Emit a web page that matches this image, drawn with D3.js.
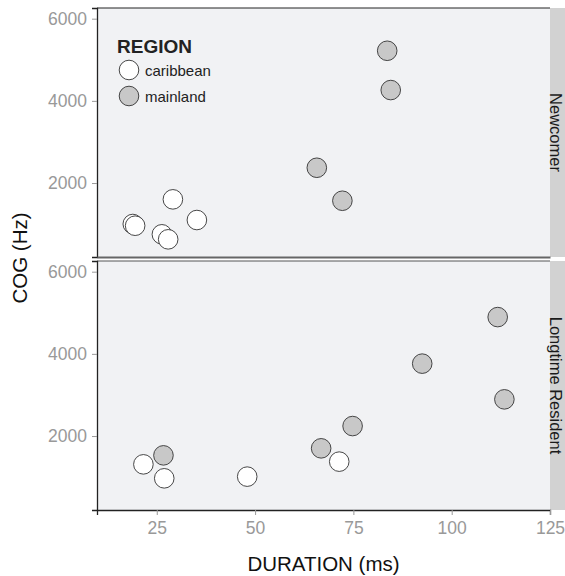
<!DOCTYPE html>
<html><head><meta charset="utf-8">
<script src="https://cdn.jsdelivr.net/npm/d3@7"></script>
<style>body{margin:0;background:#fff}svg{display:block;font-family:"Liberation Sans",Arial,sans-serif}</style>
</head><body><svg id="c" width="565" height="576"></svg>
<script>
const panels = ["Newcomer", "Longtime Resident"];
const regions = ["caribbean", "mainland"];
const xTicks = [25, 50, 75, 100, 125];
const yTicks = [2000, 4000, 6000];
// Newcomer
const newDur    = [18.9, 19.5, 29.1, 35.2, 26.3, 27.9, 83.6, 84.5, 65.7, 72.2];
const newCog    = [1003, 961, 1603, 1100, 752, 630, 5219, 4263, 2372, 1569];
const newRegion = ["caribbean","caribbean","caribbean","caribbean","caribbean","caribbean","mainland","mainland","mainland","mainland"];
// Longtime Resident
const oldDur    = [21.6, 26.9, 48.0, 71.4, 26.7, 111.7, 92.5, 113.4, 74.8, 66.8];
const oldCog    = [1311, 971, 1012, 1377, 1530, 4895, 3762, 2893, 2243, 1701];
const oldRegion = ["caribbean","caribbean","caribbean","caribbean","mainland","mainland","mainland","mainland","mainland","mainland"];

const svg = d3.select("#c");
const L = 97, R = 550;
const panelBox = [{top: 8, bottom: 257}, {top: 261, bottom: 510}];
const x = d3.scaleLinear().domain([9.8, 125]).range([L, R]);
const fill = d3.scaleOrdinal().domain(regions).range(["#ffffff", "#c8c8c8"]);
const FF = "Liberation Sans, Arial, sans-serif";

const dataSets = [
  newDur.map((d, i) => ({dur: d, cog: newCog[i], region: newRegion[i]})),
  oldDur.map((d, i) => ({dur: d, cog: oldCog[i], region: oldRegion[i]}))
];

panels.forEach((p, pi) => {
  const b = panelBox[pi];
  const y = d3.scaleLinear().domain([200, 6260]).range([b.bottom, b.top]);
  const g = svg.append("g");
  g.append("rect").attr("x", L).attr("y", b.top).attr("width", R - L).attr("height", b.bottom - b.top).attr("fill", "#f1f2f4");
  // strip
  g.append("rect").attr("x", R).attr("y", b.top).attr("width", 15).attr("height", b.bottom - b.top).attr("fill", "#d2d2d2");
  g.append("text").attr("transform", `translate(${R},${(b.top + b.bottom) / 2}) rotate(90)`)
    .attr("text-anchor", "middle").attr("font-size", 16.5).attr("fill", "#1a1a1a").text(p);
  // top border
  g.append("line").attr("x1", L).attr("x2", R).attr("y1", b.top).attr("y2", b.top)
    .attr("stroke", pi === 0 ? "#222" : "#555").attr("stroke-width", 1);
  // y axis
  const ya = g.append("g").attr("transform", `translate(${L},0)`)
    .call(d3.axisLeft(y).tickValues(yTicks).tickSize(5).tickPadding(5).tickFormat(d3.format("d")));
  ya.select(".domain").attr("stroke", "#222").attr("stroke-width", 1.3);
  ya.selectAll(".tick line").attr("stroke", "#999");
  ya.selectAll(".tick text").attr("fill", "#999").attr("font-size", 17.5).attr("font-family", FF);
  // x axis / bottom line
  const xa = g.append("g").attr("transform", `translate(0,${b.bottom})`)
    .call(d3.axisBottom(x).tickValues(xTicks).tickSize(pi === 1 ? 5 : 0).tickFormat(d3.format("d")).tickPadding(pi === 1 ? 7 : 0));
  xa.select(".domain").attr("stroke", pi === 0 ? "#666" : "#222").attr("stroke-width", pi === 0 ? 2 : 1.3);
  if (pi === 0) xa.selectAll(".tick").remove();
  xa.selectAll(".tick line").attr("stroke", "#999");
  xa.selectAll(".tick text").attr("fill", "#999").attr("font-size", 17.5).attr("font-family", FF);
  // points
  g.selectAll("circle.pt").data(dataSets[pi]).join("circle").attr("class", "pt")
    .attr("cx", d => x(d.dur)).attr("cy", d => y(d.cog)).attr("r", 9.8)
    .attr("fill", d => fill(d.region)).attr("stroke", "#333").attr("stroke-width", 0.9);
});

// axis titles
svg.append("text").attr("x", (L + R) / 2).attr("y", 571).attr("text-anchor", "middle")
  .attr("font-size", 20.5).attr("fill", "#111").text("DURATION (ms)");
svg.append("text").attr("transform", `translate(27,258) rotate(-90)`).attr("text-anchor", "middle")
  .attr("font-size", 20.5).attr("fill", "#111").text("COG (Hz)");

// legend
const lg = svg.append("g");
lg.append("text").attr("x", 117).attr("y", 53).attr("font-size", 19).attr("font-weight", "bold").attr("fill", "#222").text("REGION");
regions.forEach((r, i) => {
  lg.append("circle").attr("cx", 129).attr("cy", 70 + i * 26).attr("r", 9.8)
    .attr("fill", fill(r)).attr("stroke", "#333").attr("stroke-width", 0.9);
  lg.append("text").attr("x", 145).attr("y", 75.5 + i * 26).attr("font-size", 15).attr("fill", "#222").text(r);
});
</script></body></html>
